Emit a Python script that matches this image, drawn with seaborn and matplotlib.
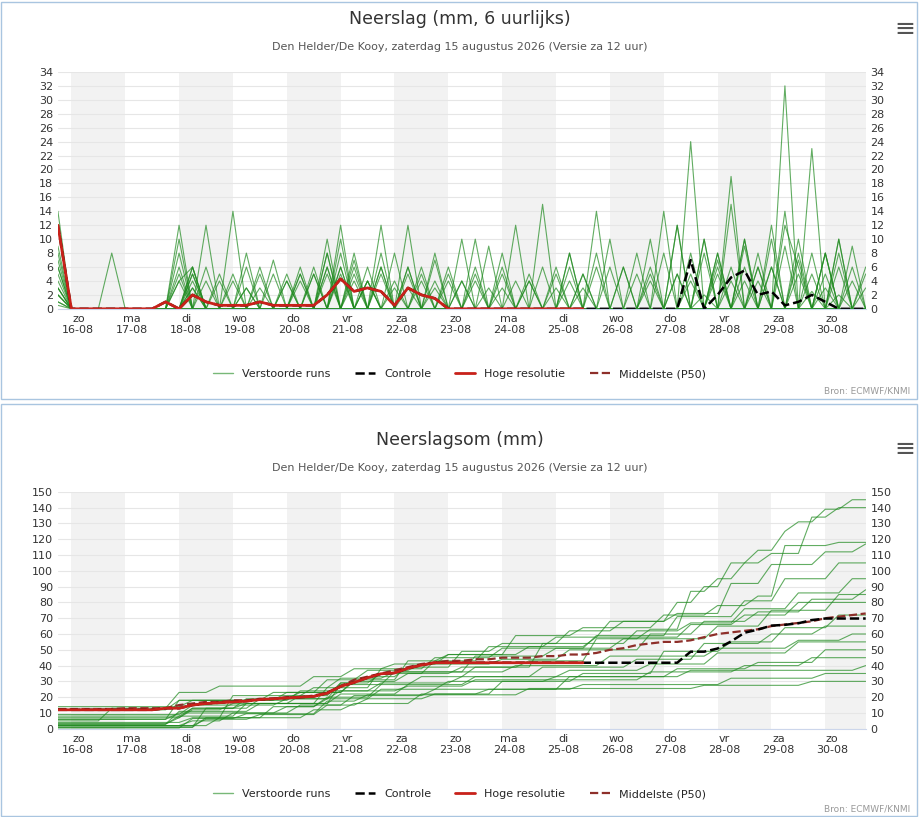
import numpy as np
import pandas as pd
import matplotlib.pyplot as plt
import seaborn as sns
from matplotlib.patches import Rectangle

# 6-hourly steps from za 15-08 18:00 to zo 30-08 18:00
n_steps = 61
day_labels = ['zo\n16-08', 'ma\n17-08', 'di\n18-08', 'wo\n19-08', 'do\n20-08', 'vr\n21-08',
              'za\n22-08', 'zo\n23-08', 'ma\n24-08', 'di\n25-08', 'wo\n26-08', 'do\n27-08',
              'vr\n28-08', 'za\n29-08', 'zo\n30-08']

# perturbed members: {step: mm per 6h}
members = [
    {0: 3, 9: 4, 10: 6, 14: 3, 18: 5, 21: 8, 23: 4, 26: 6, 30: 10, 33: 5, 38: 8, 42: 6, 46: 12, 48: 10, 50: 15, 52: 8, 54: 12, 55: 6, 57: 8, 59: 6},
    {0: 2, 10: 3, 13: 5, 17: 4, 20: 6, 24: 8, 27: 5, 31: 6, 35: 4, 40: 14, 44: 6, 47: 24, 49: 8, 51: 10, 53: 6, 56: 23, 58: 6},
    {0: 5, 4: 8, 9: 10, 12: 4, 19: 6, 22: 5, 25: 3, 29: 6, 34: 12, 39: 5, 45: 8, 49: 6, 52: 6, 54: 32, 58: 2},
    {0: 1, 11: 12, 15: 6, 21: 10, 24: 6, 28: 8, 32: 9, 37: 6, 41: 10, 46: 5, 50: 19, 53: 12, 57: 8, 60: 5},
    {0: 8, 10: 5, 14: 6, 18: 4, 22: 7, 26: 5, 30: 4, 36: 15, 43: 8, 47: 5, 51: 9, 55: 10, 59: 9},
    {0: 12, 9: 6, 16: 5, 20: 8, 23: 6, 27: 4, 33: 3, 38: 6, 44: 10, 48: 8, 52: 6, 56: 8, 60: 6},
    {0: 4, 10: 3, 13: 14, 19: 5, 21: 6, 25: 4, 31: 10, 37: 5, 42: 6, 49: 8, 53: 10, 58: 10},
    {0: 6, 9: 12, 17: 5, 22: 8, 26: 12, 29: 4, 35: 5, 40: 6, 47: 8, 51: 6, 55: 8},
    {0: 2, 11: 4, 15: 3, 20: 6, 23: 4, 28: 3, 33: 8, 39: 5, 45: 14, 50: 6, 54: 9, 58: 8},
    {0: 14, 10: 4, 18: 6, 24: 5, 30: 4, 36: 6, 43: 5, 48: 10, 53: 6, 57: 5},
    {0: 3, 9: 5, 14: 8, 21: 12, 25: 8, 34: 4, 41: 6, 49: 5, 55: 5, 59: 4},
    {0: 1, 11: 6, 19: 5, 22: 4, 27: 6, 32: 3, 38: 8, 46: 5, 52: 4, 57: 8},
    {0: 9, 10: 6, 17: 4, 21: 5, 26: 3, 31: 4, 44: 5, 51: 4, 56: 5},
    {0: 2, 12: 5, 16: 7, 20: 5, 24: 6, 29: 5, 37: 3, 47: 4, 60: 3},
    {0: 6, 9: 4, 18: 5, 22: 6, 28: 4, 39: 3, 50: 4, 57: 3},
    {0: 0.5, 10: 6, 14: 3, 20: 8, 23: 4, 35: 4, 48: 2, 56: 2.5},
    {0: 3, 9: 8, 15: 5, 20: 10, 24: 12, 28: 7, 33: 6, 40: 8, 46: 12, 51: 10, 54: 14, 58: 10},
    {0: 7, 10: 5, 13: 4, 21: 6, 26: 6, 31: 5, 38: 4, 44: 4, 49: 7, 55: 7},
]
hres = {0: 12, 8: 1, 10: 2, 11: 1, 12: 0.5, 13: 0.5, 14: 0.5, 15: 1, 16: 0.5, 17: 0.5,
        18: 0.5, 19: 0.5, 20: 2, 21: 4.3, 22: 2.5, 23: 3, 24: 2.5, 25: 0.5, 26: 3, 27: 2, 28: 1.5}
hres_last = 39
# control follows the high-resolution run until 27-08, then its own showers
control_late = {47: 7, 49: 2, 50: 4.5, 51: 5.5, 52: 2, 53: 2.5, 54: 0.5, 55: 1, 56: 2, 57: 1}
p50_sum = [12.5, 12.5, 12.5, 12.5, 12.5, 13, 13, 13, 13, 15, 16, 17, 17, 18, 18, 19, 19,
           20, 20, 21, 23, 27, 31, 33, 35, 37, 39, 41, 42, 43, 43, 44, 44, 45, 45, 45, 46,
           46, 47, 47, 48, 50, 51, 53, 54, 55, 55, 56, 58, 60, 61, 62, 63, 65, 66, 67, 68,
           70, 71, 72, 73]


def expand(ev):
    a = np.zeros(n_steps)
    for k, v in ev.items():
        a[k] = v
    return a


x = (np.arange(n_steps) - 1) / 4.0  # days since zo 16-08 00:00
rows = []
for m, ev in enumerate(members):
    a = expand(ev)
    for xi, v, cs in zip(x, a, np.cumsum(a)):
        rows.append((m, xi, v, cs))
df = pd.DataFrame(rows, columns=['member', 'x', 'mm', 'sum'])

h = expand(hres)[:hres_last + 1]
hx = x[:hres_last + 1]
c = expand({**hres, **control_late})

sns.set_style('white')
plt.rcParams['font.family'] = ['DejaVu Sans']
fig = plt.figure(figsize=(9.19, 8.17), dpi=100)

GREEN = '#1f8a1f'
RED = '#c8211a'
BROWN = '#8e2f2a'

fig.patches.append(Rectangle((0.001, 0.512), 0.997, 0.486, transform=fig.transFigure,
                             fill=False, edgecolor='#a9c5e0', lw=1))
fig.patches.append(Rectangle((0.001, 0.001), 0.997, 0.505, transform=fig.transFigure,
                             fill=False, edgecolor='#a9c5e0', lw=1))

ax1 = fig.add_axes([0.063, 0.622, 0.879, 0.290])
ax2 = fig.add_axes([0.063, 0.108, 0.879, 0.290])

for ax, col, ymax, ystep in [(ax1, 'mm', 34, 2), (ax2, 'sum', 150, 10)]:
    for d in range(0, 15, 2):
        ax.axvspan(d, d + 1, color='#f2f2f2', lw=0, zorder=0)
    sns.lineplot(data=df, x='x', y=col, units='member', estimator=None, color=GREEN,
                 lw=0.8, alpha=0.7, ax=ax, legend=False)
    if col == 'mm':
        sns.lineplot(x=x, y=c, color='black', lw=1.8, ls='--', ax=ax)
        sns.lineplot(x=hx, y=h, color=RED, lw=2, ax=ax)
    else:
        sns.lineplot(x=x, y=p50_sum, color=BROWN, lw=1.6, ls='--', ax=ax)
        sns.lineplot(x=x, y=np.cumsum(c), color='black', lw=1.8, ls='--', ax=ax)
        sns.lineplot(x=hx, y=np.cumsum(h), color=RED, lw=2, ax=ax)
    ax.set_xlim(x[0], x[-1])
    ax.set_ylim(0, ymax)
    ax.set_yticks(np.arange(0, ymax + 1, ystep))
    ax.yaxis.grid(True, color='#e6e6e6', lw=0.8)
    ax.set_xticks(np.arange(15) + 0.13)
    ax.set_xticklabels(day_labels)
    ax.tick_params(axis='x', length=0, labelsize=8, colors='#333333')
    ax.tick_params(axis='y', length=0, labelsize=8, colors='#333333', labelright=True)
    ax.set_xlabel('')
    ax.set_ylabel('')
    for s in ax.spines.values():
        s.set_visible(False)
    ax.spines['bottom'].set_visible(True)
    ax.spines['bottom'].set_color('#ccd6eb')

for ytitle, ysub, yleg, ybron, title in [(0.977, 0.942, 0.542, 0.516, 'Neerslag (mm, 6 uurlijks)'),
                                         (0.462, 0.427, 0.028, 0.004, 'Neerslagsom (mm)')]:
    fig.text(0.5, ytitle, title, ha='center', va='center', fontsize=12.5, color='#333333')
    fig.text(0.5, ysub, 'Den Helder/De Kooy, zaterdag 15 augustus 2026 (Versie za 12 uur)',
             ha='center', va='center', fontsize=8, color='#555555')
    fig.text(0.985, ytitle - 0.012, '≡', ha='center', va='center', fontsize=18, color='#555555')
    fig.text(0.99, ybron, 'Bron: ECMWF/KNMI', ha='right', va='bottom', fontsize=6.5, color='#999999')
    handles = [plt.Line2D([], [], color=GREEN, lw=1, alpha=0.6),
               plt.Line2D([], [], color='black', lw=1.8, ls='--'),
               plt.Line2D([], [], color=RED, lw=2),
               plt.Line2D([], [], color=BROWN, lw=1.6, ls='--')]
    fig.legend(handles, ['Verstoorde runs', 'Controle', 'Hoge resolutie', 'Middelste (P50)'],
               loc='center', bbox_to_anchor=(0.5, yleg), ncol=4, frameon=False, fontsize=8,
               handlelength=1.8, columnspacing=2.2)

fig.savefig('out.png', dpi=100)
